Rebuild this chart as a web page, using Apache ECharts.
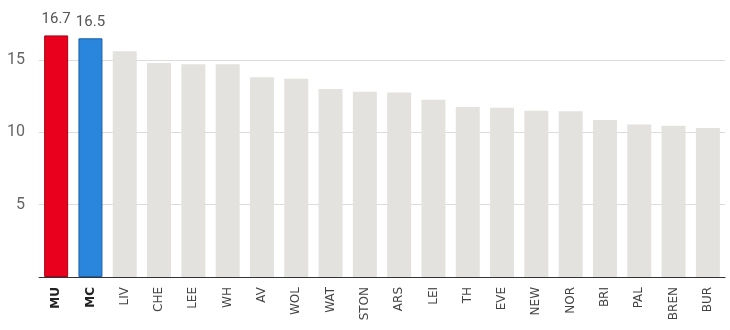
<!DOCTYPE html>
<html>
<head>
<meta charset="utf-8">
<script src="https://cdn.jsdelivr.net/npm/echarts@6/dist/echarts.min.js"></script>
<style>html,body{margin:0;padding:0;background:#fff}#c{width:730px;height:330px}</style>
</head>
<body>
<div id="c"></div>
<script>
const categories = ['MU','MC','LIV','CHE','LEE','WH','AV','WOL','WAT','STON','ARS','LEI','TH','EVE','NEW','NOR','BRI','PAL','BREN','BUR'];
const values = [16.7,16.5,15.6,14.8,14.7,14.7,13.8,13.7,13.0,12.8,12.75,12.25,11.75,11.7,11.5,11.45,10.85,10.55,10.45,10.3];
const yTicks = [0,5,10,15];

const FONT = 'Roboto, "Open Sans", sans-serif';
const XFONT = '"DejaVu Sans", sans-serif';
const chart = echarts.init(document.getElementById('c'), null, {renderer:'canvas'});
const fills = ['#e8001c','#2a86dc'];
const borders = ['#a80016','#1a5fa8'];
chart.setOption({
  animation:false,
  grid:{left:39,right:5,top:60,bottom:53},
  xAxis:{
    type:'category',
    data:categories,
    axisLine:{lineStyle:{color:'#333',width:1}},
    axisTick:{show:false},
    axisLabel:{
      rotate:90,interval:0,margin:10,color:'#444',fontSize:12,fontFamily:XFONT,
      formatter:(v,i)=>i<2?'{b|'+v+'}':v,
      rich:{b:{fontWeight:'bold',color:'#222',fontSize:12,fontFamily:XFONT}}
    }
  },
  yAxis:{
    type:'value',min:yTicks[0],max:yTicks[yTicks.length-1],interval:5,
    axisLine:{show:false},axisTick:{show:false},
    axisLabel:{color:'#666',fontSize:16,fontFamily:FONT,margin:14,formatter:v=>v===0?'':String(v)},
    splitLine:{lineStyle:{color:'#dcdcdc',width:1}}
  },
  series:[{
    type:'bar',
    clip:false,
    barWidth:24,
    data:values.map((v,i)=>({
      value:v,
      itemStyle:i<2?{color:fills[i],borderColor:borders[i],borderWidth:1}:{color:'#e3e2df'},
      label:{show:i<2}
    })),
    label:{position:'top',distance:9,color:'#555',fontSize:15,fontFamily:FONT,formatter:p=>p.value.toFixed(1)}
  }]
});
</script>
</body>
</html>
